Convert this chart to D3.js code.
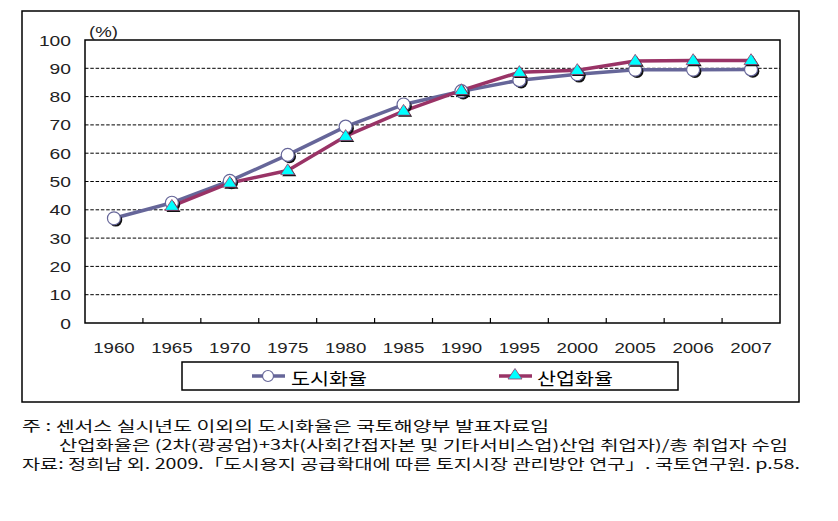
<!DOCTYPE html>
<html><head><meta charset="utf-8">
<script src="https://cdn.jsdelivr.net/npm/d3@7"></script>
<style>body{margin:0;background:#fff}svg{display:block}</style>
</head><body>
<svg id="c" width="838" height="521"></svg>
<script>
const years = ["1960","1965","1970","1975","1980","1985","1990","1995","2000","2005","2006","2007"];
const urbanRate = [37.0, 42.5, 50.2, 59.4, 69.4, 77.2, 81.9, 85.8, 87.9, 89.5, 89.5, 89.6];
const industrialRate = [null, 41.3, 49.5, 53.9, 66.0, 74.9, 82.2, 88.6, 89.3, 92.6, 92.8, 92.8];
const yTicks = [0,10,20,30,40,50,60,70,80,90,100];
const seriesNames = ["도시화율","산업화율"];
const notes = [
  "주 : 센서스 실시년도 이외의 도시화율은 국토해양부 발표자료임",
  "산업화율은 (2차(광공업)+3차(사회간접자본 및 기타서비스업)산업 취업자)/총 취업자 수임",
  "자료: 정희남 외. 2009.「도시용지 공급확대에 따른 토지시장 관리방안 연구」. 국토연구원. p.58."
];

const svg = d3.select("#c");
const L = 85, R = 780, T = 40, B = 323;
const blue = "#666699", maroon = "#993366";
const x = d3.scaleBand().domain(years).range([L, R]).padding(0);
const y = d3.scaleLinear().domain([0, 100]).range([B, T]);
const cx = d => x(d) + x.bandwidth()/2;
const axisFont = "'Liberation Sans', Arial, sans-serif";

// outer frame
svg.append("rect").attr("x",22).attr("y",11).attr("width",777).attr("height",391)
  .attr("fill","none").attr("stroke","#000").attr("stroke-width",1.5);

// gridlines
svg.append("g").selectAll("line").data(yTicks.filter(t => t > 0 && t < 100)).join("line")
  .attr("x1", L).attr("x2", R).attr("y1", d => y(d)).attr("y2", d => y(d))
  .attr("stroke","#000").attr("stroke-width",1).attr("stroke-dasharray","3.5,1.8");

// plot border
svg.append("rect").attr("x",L).attr("y",T).attr("width",R-L).attr("height",B-T)
  .attr("fill","none").attr("stroke","#000").attr("stroke-width",1.5);

// x ticks (inward, at band boundaries)
svg.append("g").selectAll("line").data(years.slice(1)).join("line")
  .attr("x1", d => x(d)).attr("x2", d => x(d)).attr("y1", B).attr("y2", B-5)
  .attr("stroke","#000").attr("stroke-width",1.2);

// y labels
svg.append("g").selectAll("text").data(yTicks).join("text")
  .attr("x", 71).attr("y", d => y(d) + 5.5)
  .attr("text-anchor","end").attr("font-family",axisFont).attr("font-size",15)
  .attr("textLength", d => String(d).length*10.7).attr("lengthAdjust","spacingAndGlyphs")
  .attr("fill","#222").text(d => d);

// x labels
svg.append("g").selectAll("text").data(years).join("text")
  .attr("x", d => cx(d)).attr("y", 353)
  .attr("text-anchor","middle").attr("font-family",axisFont).attr("font-size",15)
  .attr("textLength", 41.5).attr("lengthAdjust","spacingAndGlyphs")
  .attr("fill","#222").text(d => d);

// unit
svg.append("text").attr("x",89).attr("y",37).attr("font-family",axisFont).attr("font-size",15)
  .attr("textLength",29).attr("lengthAdjust","spacingAndGlyphs").attr("fill","#222").text("(%)");

// lines
const line = d3.line().defined(d => d.v != null).x(d => cx(d.k)).y(d => y(d.v));
const s1 = years.map((k,i) => ({k, v: urbanRate[i]}));
const s2 = years.map((k,i) => ({k, v: industrialRate[i]}));
svg.append("path").datum(s1).attr("d", line).attr("fill","none").attr("stroke",blue).attr("stroke-width",3.5).attr("stroke-linejoin","round");
svg.append("path").datum(s2).attr("d", line).attr("fill","none").attr("stroke",maroon).attr("stroke-width",3.5).attr("stroke-linejoin","round");

// markers
function circleMarker(g, px, py, r) {
  g.append("circle").attr("cx",px+1.8).attr("cy",py+1.8).attr("r",r).attr("fill","#111");
  g.append("circle").attr("cx",px).attr("cy",py).attr("r",r).attr("fill","#fff").attr("stroke",blue).attr("stroke-width",1.2);
}
function triMarker(g, px, py, s) {
  const pts = (ox,oy) => [[px+ox, py-s*0.95+oy],[px+s+ox, py+s*0.6+oy],[px-s+ox, py+s*0.6+oy]].map(p=>p.join(",")).join(" ");
  g.append("polygon").attr("points", pts(1.6,1.6)).attr("fill","#111");
  g.append("polygon").attr("points", pts(0,0)).attr("fill","#00ffff").attr("stroke",maroon).attr("stroke-width",0.8);
}
const mg = svg.append("g");
s1.filter(d => d.v != null).forEach(d => circleMarker(mg, cx(d.k), y(d.v), 6.5));
s2.filter(d => d.v != null).forEach(d => triMarker(mg, cx(d.k), y(d.v), 7));

// legend
svg.append("rect").attr("x",182).attr("y",362).attr("width",496).attr("height",28)
  .attr("fill","#fff").attr("stroke","#000").attr("stroke-width",1.5);
const lg = svg.append("g");
lg.append("line").attr("x1",252).attr("x2",285).attr("y1",376).attr("y2",376).attr("stroke",blue).attr("stroke-width",3.5);
lg.append("circle").attr("cx",268).attr("cy",376).attr("r",5.5).attr("fill","#fff").attr("stroke",blue).attr("stroke-width",1.2);
lg.append("line").attr("x1",499).attr("x2",532).attr("y1",376).attr("y2",376).attr("stroke",maroon).attr("stroke-width",3.5);
lg.append("polygon").attr("points","515,368.5 522,379 508,379").attr("fill","#00ffff").attr("stroke",maroon).attr("stroke-width",0.8);
lg.selectAll("text").data(seriesNames).join("text")
  .attr("x",(d,i) => i ? 537 : 291).attr("y",385)
  .attr("font-family","'Noto Sans CJK KR', sans-serif").attr("font-size",17)
  .attr("textLength",76).attr("lengthAdjust","spacingAndGlyphs").text(d => d);

// notes
const noteX = [22, 59, 22], noteW = [527, 729, 778], noteY = [431, 450, 469];
svg.append("g").selectAll("text").data(notes).join("text")
  .attr("x",(d,i) => noteX[i]).attr("y",(d,i) => noteY[i])
  .attr("font-family","'Noto Sans CJK KR', serif").attr("font-size",14)
  .attr("textLength",(d,i) => noteW[i]).attr("lengthAdjust","spacingAndGlyphs")
  .attr("fill","#111").text(d => d);
</script>
</body></html>
